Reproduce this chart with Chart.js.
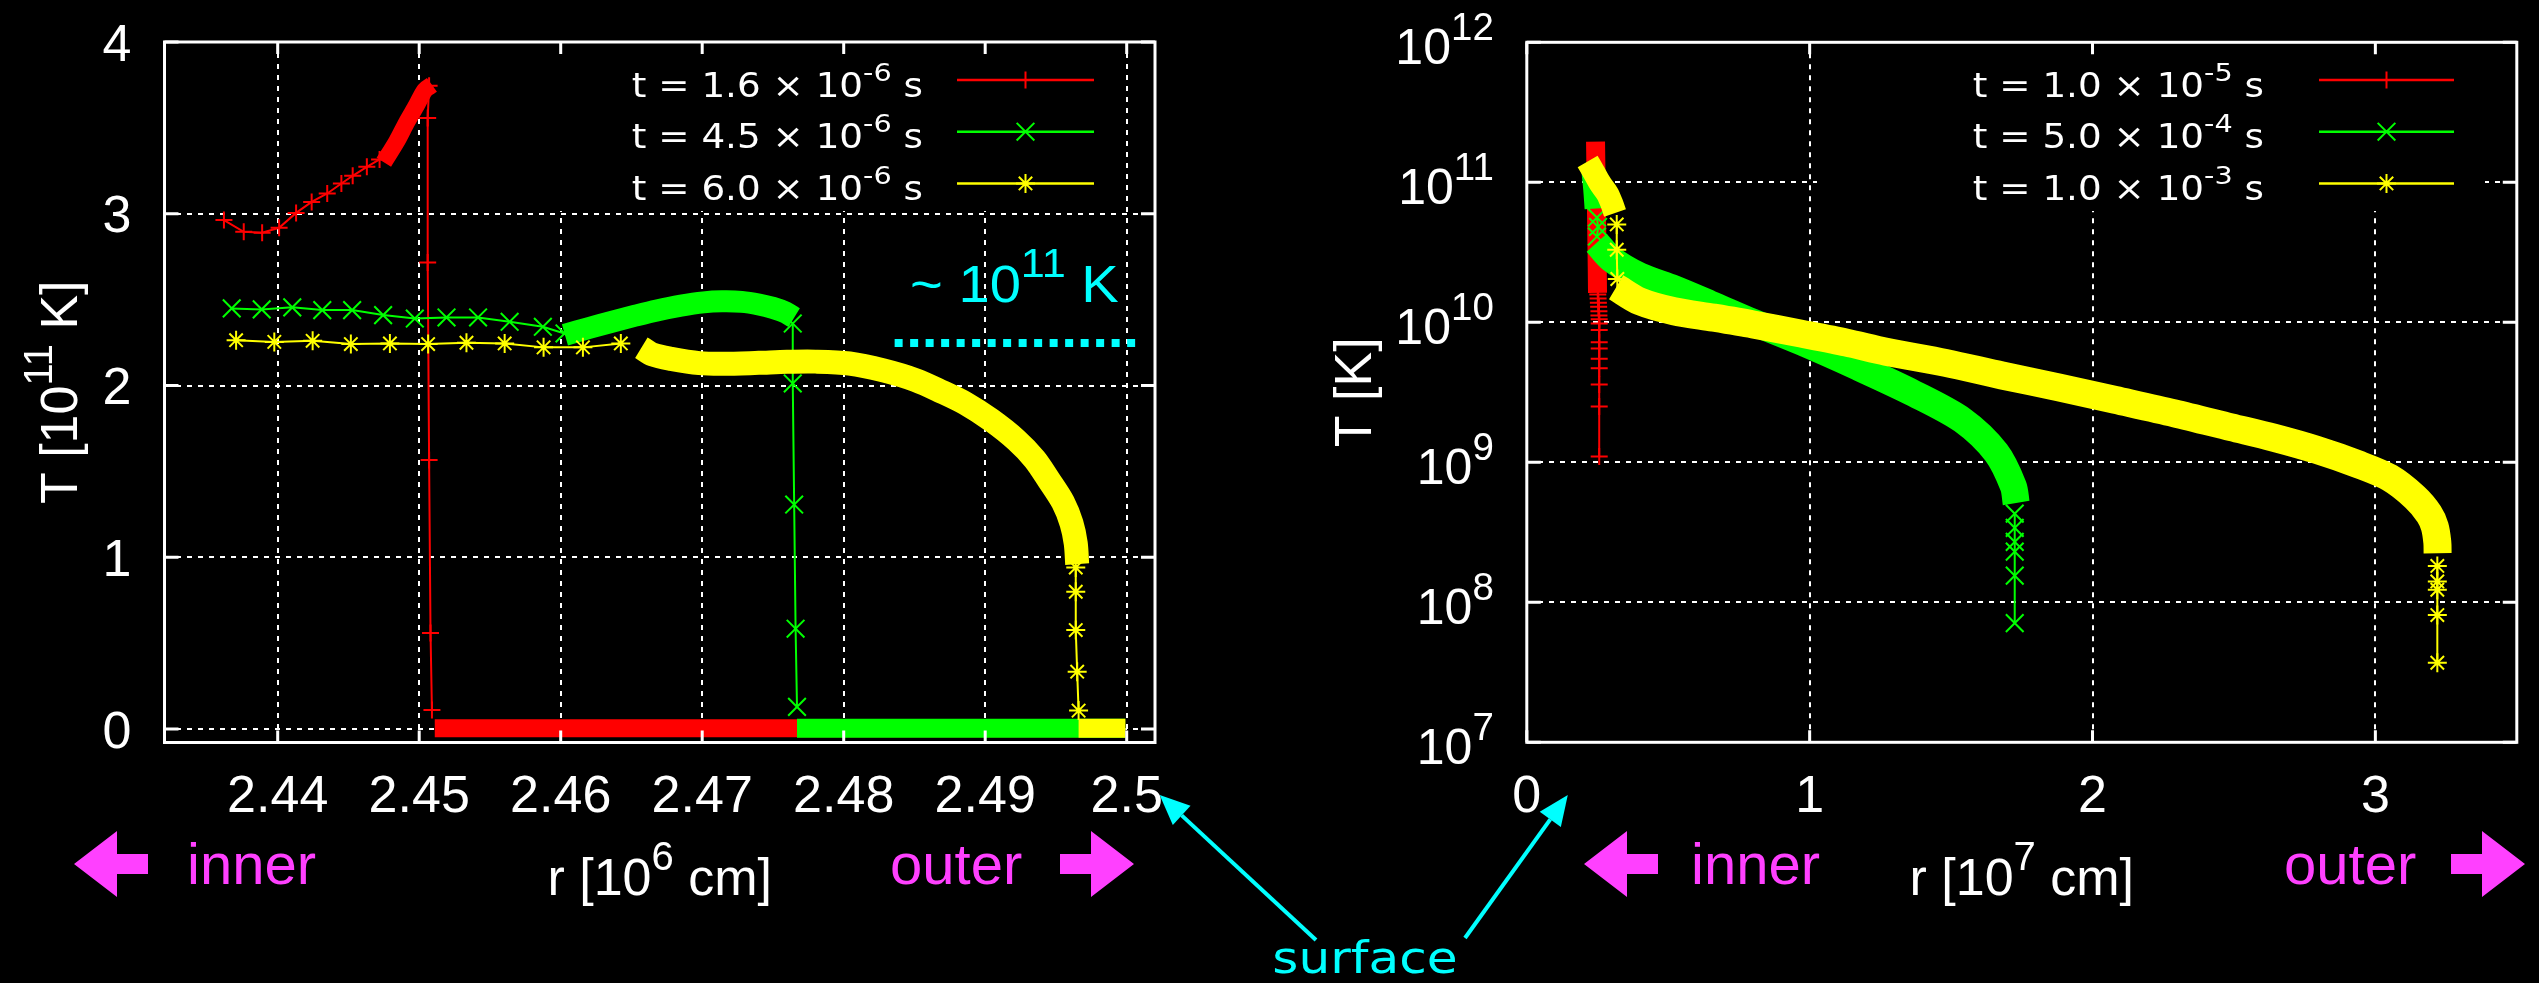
<!DOCTYPE html>
<html>
<head>
<meta charset="utf-8">
<script src="https://cdn.jsdelivr.net/npm/chart.js@4.4.1/dist/chart.umd.min.js"></script>
<style>
  html, body { margin: 0; padding: 0; background: #000; overflow: hidden; }
  #wrap { position: relative; width: 2539px; height: 983px; background: #000; }
  canvas { position: absolute; top: 0; }
  #cL { left: 0; }
  #cR { left: 1270px; }
  #ov { left: 0; pointer-events: none; }
</style>
</head>
<body>
<div id="wrap">
  <canvas id="cL" width="1270" height="983"></canvas>
  <canvas id="cR" width="1269" height="983"></canvas>
  <canvas id="ov" width="2539" height="983"></canvas>
</div>
<script>
// ---------------- Left panel: T [10^11 K] against r [10^6 cm] ----------------
const leftTimes = [['1.6', '-6'], ['4.5', '-6'], ['6.0', '-6']];
const leftXTicks = [2.44, 2.45, 2.46, 2.47, 2.48, 2.49, 2.50];
const leftXLabels = ['2.44', '2.45', '2.46', '2.47', '2.48', '2.49', '2.5'];
const leftYTicks = [0, 1, 2, 3, 4];
const leftYLabels = ['0', '1', '2', '3', '4'];

// t = 1.6e-6 s
const redRise = [[2.4362, 2.963], [2.4376, 2.895], [2.4389, 2.889], [2.4401, 2.918], [2.4413, 3.005], [2.4424, 3.069],
                 [2.4435, 3.118], [2.4445, 3.176], [2.4453, 3.221], [2.4463, 3.273], [2.4472, 3.316]];
const redPeak = [[2.4475, 3.30], [2.4484, 3.42], [2.4491, 3.53], [2.4498, 3.63], [2.4504, 3.72], [2.4509, 3.75]];
const redDrop = [[2.4507, 3.745], [2.4506, 3.558], [2.4506, 2.716], [2.4507, 1.566], [2.4508, 0.559], [2.4509, 0.11]];
const redFloor = [[2.4511, 0.005], [2.4999, 0.005]];

// t = 4.5e-6 s
const greenFlat = [[2.43675, 2.449], [2.43887, 2.443], [2.44103, 2.455], [2.44315, 2.439], [2.44526, 2.439], [2.44745, 2.410],
                   [2.44969, 2.390], [2.45193, 2.396], [2.45416, 2.396], [2.45639, 2.371], [2.45874, 2.342], [2.46027, 2.303]];
const greenHump = [[2.4603, 2.295], [2.4620, 2.335], [2.4636, 2.371], [2.4652, 2.405], [2.4668, 2.437], [2.4685, 2.465],
                   [2.4701, 2.484], [2.4714, 2.490], [2.4728, 2.487], [2.4740, 2.472], [2.4750, 2.452], [2.4759, 2.425], [2.4765, 2.395]];
const greenDrop = [[2.4764, 2.361], [2.4764, 2.012], [2.4765, 1.307], [2.4766, 0.584], [2.4767, 0.129]];
const greenFloor = [[2.4767, 0.005], [2.4999, 0.005]];

// t = 6.0e-6 s
const yellowFlat = [[2.43706, 2.264], [2.43976, 2.254], [2.44247, 2.260], [2.44517, 2.241], [2.44793, 2.245], [2.45063, 2.241],
                    [2.45334, 2.249], [2.45604, 2.245], [2.45879, 2.222], [2.46157, 2.222], [2.46425, 2.245]];
const yellowShoulder = [[2.4657, 2.220], [2.4665, 2.180], [2.4678, 2.155], [2.4698, 2.130], [2.4715, 2.126], [2.4740, 2.132],
                        [2.4760, 2.138], [2.4780, 2.139], [2.4804, 2.128], [2.4828, 2.088], [2.4851, 2.031], [2.4869, 1.965],
                        [2.4886, 1.896], [2.4904, 1.800], [2.4922, 1.682], [2.4935, 1.570], [2.4945, 1.449], [2.4955, 1.320],
                        [2.4961, 1.197], [2.4964, 1.080], [2.4965, 0.960]];
const yellowDrop = [[2.4964, 0.940], [2.4964, 0.799], [2.4964, 0.576], [2.4965, 0.334], [2.4966, 0.107]];
const yellowFloor = [[2.4966, 0.005], [2.4999, 0.005]];

// ~1e11 K reference level
const hotLevel = [[2.4836, 2.247], [2.5011, 2.247]];

// ---------------- Right panel: T [K] against r [10^7 cm] ----------------
const rightTimes = [['1.0', '-5'], ['5.0', '-4'], ['1.0', '-3']];
const rightXTicks = [0, 1, 2, 3];
const rightXLabels = ['0', '1', '2', '3'];
const rightYTicks = [1e7, 1e8, 1e9, 1e10, 1e11, 1e12];
const rightYLabels = ['10^{7}', '10^{8}', '10^{9}', '10^{10}', '10^{11}', '10^{12}'];

// t = 1.0e-5 s
const redCoreR = [[0.243, 1.95e11], [0.245, 1.0e11], [0.247, 5.0e10], [0.249, 2.5e10], [0.250, 1.62e10]];
const redTailR = [[0.251, 1.58e10], [0.252, 1.48e10], [0.253, 1.38e10], [0.254, 1.29e10], [0.255, 1.20e10], [0.255, 1.12e10],
                  [0.256, 1.05e10], [0.256, 9.8e9], [0.256, 8.8e9], [0.256, 7.2e9], [0.256, 6.5e9], [0.256, 5.5e9],
                  [0.256, 4.7e9], [0.256, 3.6e9], [0.256, 2.5e9], [0.256, 1.1e9]];

// t = 5.0e-4 s
const greenCapR = [[0.233, 1.25e11], [0.240, 9.0e10], [0.245, 6.5e10]];
const greenStepR = [[0.248, 5.6e10], [0.252, 4.8e10], [0.248, 4.1e10]];
const greenSlopeR = [[0.247, 3.7e10], [0.30, 2.82e10], [0.40, 2.14e10], [0.52, 1.74e10], [0.65, 1.35e10], [0.80, 1.0e10],
                     [0.97, 7.24e9], [1.17, 4.79e9], [1.37, 3.09e9], [1.54, 2.0e9], [1.66, 1.17e9], [1.72, 6.76e8], [1.73, 5.13e8]];
const greenTailR = [[1.725, 4.3e8], [1.725, 3.4e8], [1.725, 2.7e8], [1.725, 2.3e8], [1.725, 1.55e8], [1.725, 7.1e7]];

// t = 1.0e-3 s
const yellowCapR = [[0.215, 1.41e11], [0.235, 1.20e11], [0.260, 9.77e10], [0.285, 8.3e10], [0.300, 7.08e10], [0.312, 6.03e10]];
const yellowStepR = [[0.318, 5.0e10], [0.318, 3.3e10], [0.320, 2.04e10]];
const yellowSlopeR = [[0.316, 1.78e10], [0.40, 1.41e10], [0.52, 1.20e10], [0.66, 1.08e10], [0.80, 9.66e9], [0.97, 8.3e9],
                      [1.13, 7.16e9], [1.27, 6.17e9], [1.48, 5.13e9], [1.68, 4.17e9], [1.88, 3.43e9], [2.08, 2.79e9],
                      [2.29, 2.24e9], [2.49, 1.78e9], [2.64, 1.50e9], [2.79, 1.23e9], [2.94, 9.66e8], [3.05, 7.76e8],
                      [3.14, 5.62e8], [3.19, 4.27e8], [3.21, 3.47e8], [3.219, 2.69e8], [3.22, 2.24e8]];
const yellowTailR = [[3.219, 1.82e8], [3.219, 1.41e8], [3.219, 1.23e8], [3.219, 8.1e7], [3.219, 3.7e7]];

// ---------------- drawing helpers ----------------
const RED = '#ff0000', GREEN = '#00ff00', YELLOW = '#ffff00', CYAN = '#00ffff', MAGENTA = '#ff40ff', WHITE = '#ffffff';
const SANS = '"Liberation Sans", Arial, sans-serif';
const VERA = '"DejaVu Sans", Verdana, sans-serif';
const SUP = 0.77, RISE = 0.48;

const toXY = arr => arr.map(p => ({ x: p[0], y: p[1] }));

// "10^{11} K" -> [{t:'10'}, {t:'11', sup:true}, {t:' K'}]
function rich(str) {
  const parts = [];
  const re = /\^\{([^}]*)\}/g;
  let last = 0, m;
  while ((m = re.exec(str))) {
    if (m.index > last) parts.push({ t: str.slice(last, m.index) });
    parts.push({ t: m[1], sup: true });
    last = re.lastIndex;
  }
  if (last < str.length) parts.push({ t: str.slice(last) });
  return parts;
}

function richWidth(ctx, parts, o) {
  let w = 0;
  for (const p of parts) {
    ctx.font = `${p.sup ? o.size * SUP : o.size}px ${o.fam}`;
    w += ctx.measureText(p.t).width;
  }
  return w * (o.sx || 1);
}

function drawRich(ctx, str, x, y, o) {
  const parts = rich(str);
  const sx = o.sx || 1;
  const w = richWidth(ctx, parts, o);
  let start = x;
  if (o.align === 'right') start = x - w;
  else if (o.align === 'center') start = x - w / 2;
  ctx.save();
  ctx.translate(start, y);
  ctx.scale(sx, 1);
  ctx.fillStyle = o.color || WHITE;
  ctx.textAlign = 'left';
  ctx.textBaseline = 'alphabetic';
  let cx = 0;
  for (const p of parts) {
    const s = p.sup ? o.size * SUP : o.size;
    ctx.font = `${s}px ${o.fam}`;
    ctx.fillText(p.t, cx, p.sup ? -o.size * RISE : 0);
    cx += ctx.measureText(p.t).width;
  }
  ctx.restore();
}

function drawRotatedTitle(ctx, str, cy, baseX, o) {
  ctx.save();
  ctx.translate(baseX, cy);
  ctx.rotate(-Math.PI / 2);
  drawRich(ctx, str, 0, 0, Object.assign({ align: 'center' }, o));
  ctx.restore();
}

function drawMark(ctx, style, r, x, y) {
  ctx.beginPath();
  if (style === 'cross' || style === 'star') {
    ctx.moveTo(x - r, y); ctx.lineTo(x + r, y);
    ctx.moveTo(x, y - r); ctx.lineTo(x, y + r);
  }
  if (style === 'crossRot' || style === 'star') {
    const d = r * Math.SQRT1_2;
    ctx.moveTo(x - d, y - d); ctx.lineTo(x + d, y + d);
    ctx.moveTo(x - d, y + d); ctx.lineTo(x + d, y - d);
  }
  ctx.stroke();
}

function blockArrow(ctx, tipX, cy, dir) {
  const head = 43, halfH = 33, shaft = 31, halfS = 10;
  const b = tipX - dir * head;
  ctx.save();
  ctx.fillStyle = MAGENTA;
  ctx.beginPath();
  ctx.moveTo(tipX, cy);
  ctx.lineTo(b, cy - halfH);
  ctx.lineTo(b, cy - halfS);
  ctx.lineTo(b - dir * shaft, cy - halfS);
  ctx.lineTo(b - dir * shaft, cy + halfS);
  ctx.lineTo(b, cy + halfS);
  ctx.lineTo(b, cy + halfH);
  ctx.closePath();
  ctx.fill();
  ctx.restore();
}

const STYLE = [
  { color: RED, point: 'cross', r: 8.5 },
  { color: GREEN, point: 'crossRot', r: 12.5 },
  { color: YELLOW, point: 'star', r: 9.5 }
];

function marks(arr, k) {
  const s = STYLE[k];
  return {
    data: toXY(arr), showLine: true, borderColor: s.color, borderWidth: 2,
    pointStyle: s.point, pointRadius: s.r, pointHoverRadius: s.r,
    pointBorderColor: s.color, pointBackgroundColor: s.color, pointBorderWidth: 2,
    order: 3 - k
  };
}
function band(arr, k, w) {
  return {
    data: toXY(arr), showLine: true, borderColor: STYLE[k].color, borderWidth: w,
    pointRadius: 0, pointHoverRadius: 0, tension: 0.3,
    borderCapStyle: 'butt', borderJoinStyle: 'round', order: 3 - k
  };
}

function gridScale(ticks, extra) {
  return Object.assign({
    afterBuildTicks: s => { s.ticks = ticks.map(v => ({ value: v })); },
    ticks: { display: false },
    grid: { color: WHITE, lineWidth: 2, drawTicks: false },
    border: { display: false, dash: [5, 6] }
  }, extra);
}

// panel decorations: legend, frame, tick marks, tick labels, titles, arrows
function panelPlugin(p) {
  return {
    id: 'panel',
    beforeDatasetsDraw(chart) {
      const ctx = chart.ctx;
      ctx.save();
      ctx.fillStyle = '#000';
      ctx.fillRect(p.legendBox[0], p.legendBox[1], p.legendBox[2] - p.legendBox[0], p.legendBox[3] - p.legendBox[1]);
      ctx.restore();
    },
    afterDraw(chart) {
      const { ctx, chartArea: a, scales } = chart;
      const sx = scales.x, sy = scales.y;

      // frame with inward ticks on all four sides
      ctx.save();
      ctx.strokeStyle = WHITE;
      ctx.lineWidth = 3;
      ctx.strokeRect(a.left, a.top, a.right - a.left, a.bottom - a.top);
      ctx.beginPath();
      for (const v of p.xTicks) {
        const px = sx.getPixelForValue(v);
        ctx.moveTo(px, a.bottom); ctx.lineTo(px, a.bottom - 12);
        ctx.moveTo(px, a.top); ctx.lineTo(px, a.top + 12);
      }
      for (const v of p.yTicks) {
        const py = sy.getPixelForValue(v);
        ctx.moveTo(a.left, py); ctx.lineTo(a.left + 14, py);
        ctx.moveTo(a.right, py); ctx.lineTo(a.right - 14, py);
      }
      ctx.stroke();
      ctx.restore();

      // tick labels
      p.xTicks.forEach((v, i) => {
        drawRich(ctx, p.xLabels[i], sx.getPixelForValue(v), 812, { fam: SANS, size: 52, align: 'center' });
      });
      p.yTicks.forEach((v, i) => {
        drawRich(ctx, p.yLabels[i], a.left - 33, sy.getPixelForValue(v) + p.yLabelDrop, { fam: SANS, size: p.yLabelSize, align: 'right' });
      });

      // axis titles
      drawRich(ctx, p.xTitle, (a.left + a.right) / 2, 895, { fam: SANS, size: 52, align: 'center' });
      drawRotatedTitle(ctx, p.yTitle, (a.top + a.bottom) / 2, p.yTitleBase, { fam: SANS, size: 52 });

      // inner / outer hints
      blockArrow(ctx, p.arrowL, 864, -1);
      blockArrow(ctx, p.arrowR, 864, 1);
      drawRich(ctx, 'inner', p.innerX, 884, { fam: SANS, size: 58, color: MAGENTA });
      drawRich(ctx, 'outer', p.outerX, 884, { fam: SANS, size: 58, color: MAGENTA });

      // legend
      p.times.forEach((t, i) => {
        const y = 80 + i * 51.7;
        const s = STYLE[i];
        drawRich(ctx, `t = ${t[0]} × 10^{${t[1]}} s`, p.legendTextRight, y + 16.5,
                 { fam: VERA, size: 33, sx: 1.13, align: 'right' });
        ctx.save();
        ctx.strokeStyle = s.color;
        ctx.lineWidth = 2.5;
        ctx.beginPath();
        ctx.moveTo(p.legendLine[0], y); ctx.lineTo(p.legendLine[1], y);
        ctx.stroke();
        ctx.lineWidth = 2;
        drawMark(ctx, s.point, s.r, (p.legendLine[0] + p.legendLine[1]) / 2, y);
        ctx.restore();
      });

      if (p.extra) p.extra(chart);
    }
  };
}

// ---------------- left chart ----------------
const leftChart = new Chart(document.getElementById('cL'), {
  type: 'scatter',
  data: {
    datasets: [
      marks(redRise, 0), band(redPeak, 0, 17), marks(redDrop, 0), band(redFloor, 0, 18),
      marks(greenFlat, 1), band(greenHump, 1, 22), marks(greenDrop, 1), band(greenFloor, 1, 19),
      marks(yellowFlat, 2), band(yellowShoulder, 2, 24), marks(yellowDrop, 2), band(yellowFloor, 2, 19),
      { data: toXY(hotLevel), showLine: true, borderColor: CYAN, borderWidth: 8, borderDash: [8, 7.5],
        borderCapStyle: 'butt', pointRadius: 0, pointHoverRadius: 0, order: 0 }
    ]
  },
  options: {
    responsive: false, animation: false, devicePixelRatio: 1,
    events: [],
    layout: { padding: { top: 42, right: 115, left: 0, bottom: 0 } },
    plugins: { legend: { display: false }, tooltip: { enabled: false } },
    scales: {
      x: gridScale(leftXTicks, { type: 'linear', min: 2.432, max: 2.502, afterFit: s => { s.height = 240.5; } }),
      y: gridScale(leftYTicks, { type: 'linear', min: -0.0786, max: 4, afterFit: s => { s.width = 164.5; } })
    }
  },
  plugins: [panelPlugin({
    legendBox: [469, 44, 1125, 211],
    xTicks: leftXTicks, xLabels: leftXLabels,
    yTicks: leftYTicks, yLabels: leftYLabels, yLabelDrop: 18.5, yLabelSize: 52,
    xTitle: 'r [10^{6} cm]', yTitle: 'T [10^{11} K]', yTitleBase: 77,
    arrowL: 74, arrowR: 1134, innerX: 187, outerX: 890,
    times: leftTimes, legendTextRight: 923, legendLine: [957, 1094],
    extra(chart) {
      drawRich(chart.ctx, '~ 10^{11} K', 910, 302, { fam: SANS, size: 52, color: CYAN, sx: 1.08 });
    }
  })]
});

// ---------------- right chart ----------------
const rightChart = new Chart(document.getElementById('cR'), {
  type: 'scatter',
  data: {
    datasets: [
      band(redCoreR, 0, 19), marks(redTailR, 0),
      band(greenCapR, 1, 23), marks(greenStepR, 1), band(greenSlopeR, 1, 27), marks(greenTailR, 1),
      band(yellowCapR, 2, 23), marks(yellowStepR, 2), band(yellowSlopeR, 2, 28), marks(yellowTailR, 2)
    ]
  },
  options: {
    responsive: false, animation: false, devicePixelRatio: 1,
    events: [],
    layout: { padding: { top: 42.3, right: 22.2, left: 0, bottom: 0 } },
    plugins: { legend: { display: false }, tooltip: { enabled: false } },
    scales: {
      x: gridScale(rightXTicks, { type: 'linear', min: 0, max: 3.5, afterFit: s => { s.height = 240.7; } }),
      y: gridScale(rightYTicks, { type: 'logarithmic', min: 1e7, max: 1e12, afterFit: s => { s.width = 256.8; } })
    }
  },
  plugins: [panelPlugin({
    legendBox: [547, 44, 1215, 211],
    xTicks: rightXTicks, xLabels: rightXLabels,
    yTicks: rightYTicks, yLabels: rightYLabels, yLabelDrop: 22, yLabelSize: 50,
    xTitle: 'r [10^{7} cm]', yTitle: 'T [K]', yTitleBase: 101,
    arrowL: 314, arrowR: 1255, innerX: 421, outerX: 1014,
    times: rightTimes, legendTextRight: 994, legendLine: [1049, 1184]
  })]
});

// ---------------- "surface" pointers across both panels ----------------
(function drawSurface() {
  const ov = document.getElementById('ov');
  const ctx = ov.getContext('2d');
  const rightOffset = 1270;
  const tipL = { x: leftChart.scales.x.getPixelForValue(2.5) + 33, y: 795 };
  const tipR = { x: rightOffset + rightChart.scales.x.getPixelForValue(0) + 41, y: 795 };
  const fromL = { x: 1316, y: 940 }, fromR = { x: 1465, y: 938 };

  function pointer(from, tip) {
    const ang = Math.atan2(tip.y - from.y, tip.x - from.x);
    const len = 30, half = 13;
    const bx = tip.x - len * Math.cos(ang), by = tip.y - len * Math.sin(ang);
    ctx.save();
    ctx.strokeStyle = CYAN; ctx.fillStyle = CYAN; ctx.lineWidth = 4;
    ctx.beginPath(); ctx.moveTo(from.x, from.y); ctx.lineTo(bx, by); ctx.stroke();
    ctx.beginPath();
    ctx.moveTo(tip.x, tip.y);
    ctx.lineTo(bx + half * Math.sin(ang), by - half * Math.cos(ang));
    ctx.lineTo(bx - half * Math.sin(ang), by + half * Math.cos(ang));
    ctx.closePath(); ctx.fill();
    ctx.restore();
  }
  pointer(fromL, tipL);
  pointer(fromR, tipR);
  drawRich(ctx, 'surface', 1365, 973, { fam: VERA, size: 44, color: CYAN, sx: 1.14, align: 'center' });
})();
</script>
</body>
</html>
